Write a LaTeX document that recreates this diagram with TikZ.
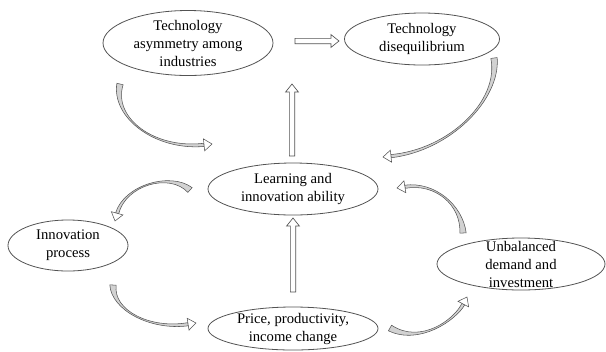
\documentclass[tikz,border=0pt]{standalone}
\usepackage{fontspec}
\setmainfont{Liberation Serif}
\usetikzlibrary{calc}

\tikzset{
  bubble/.style={draw=gray!65!black, line width=0.6pt},
  txt/.style={align=center, inner sep=0pt, font=\fontsize{11}{13.5}\selectfont},
  hollowarrow/.style={draw=gray!65!black, line width=0.5pt, fill=white},
  crescentbody/.style={draw=gray!65!black, line width=0.4pt, fill=gray!35},
  crescenthead/.style={draw=gray!65!black, line width=0.4pt, fill=white}
}

% straight block arrow: from, to
\newcommand\hollow[2]{%
  \coordinate (hn) at ($(#2)!6pt!(#1)$);
  \draw[hollowarrow] ($(#1)!2pt!90:(#2)$) -- ($(hn)!2pt!90:(#2)$)
    -- ($(hn)!4.8pt!90:(#2)$) -- (#2) -- ($(hn)!4.8pt!-90:(#2)$)
    -- ($(hn)!2pt!-90:(#2)$) -- ($(#1)!2pt!-90:(#2)$) -- cycle;
}
% curved arrow: tail, control 1, control 2, tip
\newcommand\crescent[4]{%
  \coordinate (cn) at ($(#4)!6pt!(#3)$);
  \filldraw[crescentbody] ($(#1)!2.4pt!90:(#2)$)
    .. controls ($(#2)!0.5pt!-90:(#1)$) and ($(#3)!0.6pt!90:(#4)$) .. ($(cn)!1.2pt!90:(#4)$)
    -- ($(cn)!1.2pt!-90:(#4)$)
    .. controls ($(#3)!0.6pt!-90:(#4)$) and ($(#2)!0.5pt!90:(#1)$) .. ($(#1)!2.4pt!-90:(#2)$)
    -- cycle;
  \filldraw[crescenthead] ($(cn)!1.2pt!90:(#4)$) -- ($(cn)!4.5pt!90:(#4)$) -- (#4)
    -- ($(cn)!4.5pt!-90:(#4)$) -- ($(cn)!1.2pt!-90:(#4)$) -- cycle;
}

\begin{document}
\begin{tikzpicture}[x=0.75pt, y=-0.75pt]
  \useasboundingbox (0,0) rectangle (606,351);

  % ellipses
  \node[txt] (asym) at (188,43) {Technology\\asymmetry among\\industries};
  \node[txt] (diseq) at (422,39) {Technology\\disequilibrium};
  \node[txt] (learn) at (293,189) {Learning and\\innovation ability};
  \node[txt] (innov) at (68,245.5) {Innovation\\process};
  \node[txt] (unbal) at (521,264) {Unbalanced\\demand and\\investment};
  \node[txt] (price) at (293,328.5) {Price, productivity,\\income change};

  \draw[bubble] (asym.center) ellipse [x radius=85, y radius=32.5];
  \draw[bubble] (diseq.center) ellipse [x radius=77.5, y radius=26];
  \draw[bubble] (learn.center) ellipse [x radius=85, y radius=26];
  \draw[bubble] (innov.center) ellipse [x radius=60, y radius=25.5];
  \draw[bubble] (unbal.center) ellipse [x radius=84, y radius=26];
  \draw[bubble] (price.center) ellipse [x radius=85, y radius=21.5];

  % block arrows
  \coordinate (h1) at (295,41);  \coordinate (h2) at (339,41);
  \coordinate (v1) at (292,156); \coordinate (v2) at (292,84);
  \coordinate (v3) at (293,292); \coordinate (v4) at (293,218);
  \hollow{h1}{h2}
  \hollow{v1}{v2}
  \hollow{v3}{v4}

  % curved arrows
  \coordinate (a1) at (120,84);  \coordinate (a2) at (212,144);
  \coordinate (b1) at (494,58);  \coordinate (b2) at (383,157);
  \coordinate (c1) at (190,190); \coordinate (c2) at (115,221);
  \coordinate (d1) at (463,233); \coordinate (d2) at (397,188);
  \coordinate (e1) at (113,285); \coordinate (e2) at (196,323);
  \coordinate (f1) at (390,328); \coordinate (f2) at (467,297);
  \crescent{a1}{112,118}{155,150}{a2}
  \crescent{b1}{500,100}{450,150}{b2}
  \crescent{c1}{170,172}{125,185}{c2}
  \crescent{d1}{462,205}{435,182}{d2}
  \crescent{e1}{112,310}{150,330}{e2}
  \crescent{f1}{420,345}{455,320}{f2}
\end{tikzpicture}
\end{document}
